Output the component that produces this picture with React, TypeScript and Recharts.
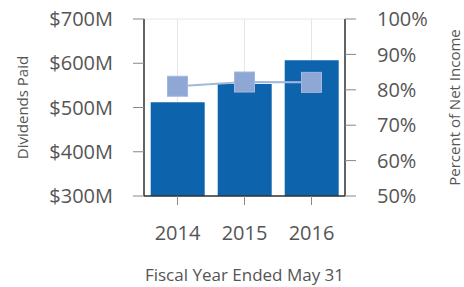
import React from 'react';
import { ComposedChart, Bar, Line, XAxis, YAxis, CartesianGrid } from 'recharts';

const years = ['2014', '2015', '2016'];
const dividends = [512, 553, 607];
const percentOfIncome = [81, 82.2, 82.1];

const leftTicks = [300, 400, 500, 600, 700];
const rightTicks = [50, 60, 70, 80, 90, 100];

const data = years.map((year, i) => ({
	year,
	dividends: dividends[i],
	percent: percentOfIncome[i],
}));

const FONT = '"Open Sans", sans-serif';
const TEXT = '#555';

const SquareDot = (props: any) => {
	const { cx, cy } = props;
	if (cx == null || cy == null) return null;
	return (
		<rect
			x={cx - 10}
			y={cy - 10}
			width={20}
			height={20}
			fill="#8ea7d5"
			stroke="#a3b8de"
			strokeWidth={1}
		/>
	);
};

export default function App() {
	return (
		<div style={{ position: 'absolute', left: 0, top: 0, background: '#fff' }}>
			<ComposedChart
				width={464}
				height={287}
				data={data}
				margin={{ top: 19, right: 0, left: 0, bottom: 0 }}
				barCategoryGap="10%"
			>
				<CartesianGrid stroke="#e6e6e6" strokeWidth={1} />
				<XAxis
					dataKey="year"
					height={91}
					tickSize={9}
					tickMargin={21}
					axisLine={{ stroke: '#333', strokeWidth: 1.5 }}
					tickLine={{ stroke: '#888' }}
					tick={{ fill: TEXT, fontSize: 20, fontFamily: FONT }}
					label={{
						value: 'Fiscal Year Ended May 31',
						position: 'insideBottom',
						offset: 6,
						fill: TEXT,
						fontSize: 17,
						fontFamily: FONT,
					}}
				/>
				<YAxis
					yAxisId="left"
					orientation="left"
					width={144}
					domain={[300, 700]}
					ticks={leftTicks}
					interval={0}
					tickSize={11}
					tickMargin={20}
					axisLine={{ stroke: '#333', strokeWidth: 1.5 }}
					tickLine={{ stroke: '#888' }}
					tickFormatter={(v: number) => `$${v}M`}
					tick={{ fill: TEXT, fontSize: 20, fontFamily: FONT }}
					label={{
						value: 'Dividends Paid',
						angle: -90,
						position: 'insideLeft',
						offset: 23,
						style: { textAnchor: 'middle' },
						fill: TEXT,
						fontSize: 15,
						fontFamily: FONT,
					}}
				/>
				<YAxis
					yAxisId="right"
					orientation="right"
					width={119}
					domain={[50, 100]}
					ticks={rightTicks}
					interval={0}
					tickSize={11}
					tickMargin={21}
					axisLine={{ stroke: '#333', strokeWidth: 1.5 }}
					tickLine={{ stroke: '#888' }}
					tickFormatter={(v: number) => `${v}%`}
					tick={{ fill: TEXT, fontSize: 20, fontFamily: FONT, textAnchor: 'start' }}
					label={{
						value: 'Percent of Net Income',
						angle: -90,
						position: 'insideRight',
						offset: 9,
						style: { textAnchor: 'middle' },
						fill: TEXT,
						fontSize: 15,
						fontFamily: FONT,
					}}
				/>
				<Bar
					yAxisId="left"
					dataKey="dividends"
					fill="#0e64ac"
					isAnimationActive={false}
				/>
				<Line
					yAxisId="right"
					dataKey="percent"
					type="linear"
					stroke="#a3b8de"
					strokeWidth={2}
					dot={<SquareDot />}
					activeDot={false}
					isAnimationActive={false}
				/>
			</ComposedChart>
		</div>
	);
}
